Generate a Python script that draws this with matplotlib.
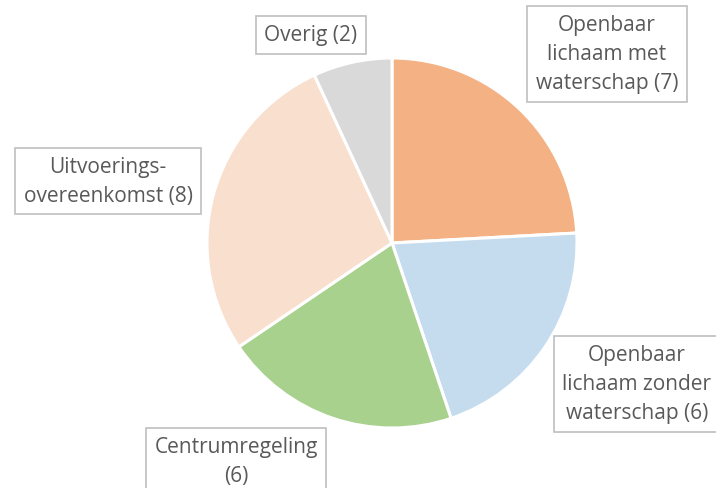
import matplotlib.pyplot as plt

labels = ["Openbaar\nlichaam met\nwaterschap (7)",
          "Openbaar\nlichaam zonder\nwaterschap (6)",
          "Centrumregeling\n(6)",
          "Uitvoerings-\novereenkomst (8)",
          "Overig (2)"]
values = [7, 6, 6, 8, 2]
colors = ["#F4B183", "#C5DCEF", "#A9D18E", "#F9DFCE", "#D9D9D9"]
# label box centres in pixel coords (x, y from top)
label_pos = [(607, 55), (637, 385), (236, 462), (108, 182), (311, 36)]

W, H = 716, 489
fig = plt.figure(figsize=(W / 100, H / 100), dpi=100)
ax = fig.add_axes([0, 0, 1, 1])

ax.pie(values, colors=colors, startangle=90, counterclock=False,
       center=(392, H - 244), radius=185, frame=True,
       wedgeprops=dict(edgecolor="white", linewidth=2.2))
ax.set_xlim(0, W)
ax.set_ylim(0, H)
ax.set_aspect("equal")
ax.axis("off")

for lab, (x, y) in zip(labels, label_pos):
    ax.text(x, H - y, lab, ha="center", va="center", fontsize=15,
            family="Open Sans", color="#595959", linespacing=1.5,
            bbox=dict(boxstyle="square,pad=0.4", facecolor="white",
                      edgecolor="#BFBFBF", linewidth=1.2))

fig.savefig("out.png", dpi=100)
